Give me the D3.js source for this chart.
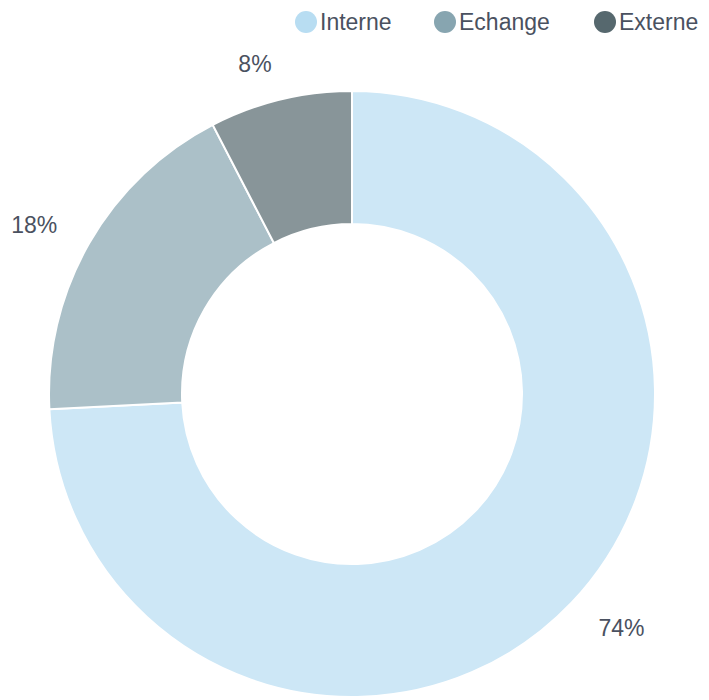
<!DOCTYPE html>
<html>
<head>
<meta charset="utf-8">
<script src="https://cdn.jsdelivr.net/npm/d3@7"></script>
<style>
  body { margin: 0; background: #fff; }
  text { font-family: "Liberation Sans", Arial, sans-serif; fill: #4a5160; }
</style>
</head>
<body>
<svg id="chart" width="709" height="700"></svg>
<script>
// data
var categories = ["Interne", "Echange", "Externe"];
var values = [74.2, 18.2, 7.6];
var labels = ["74%", "18%", "8%"];
var colors = ["#b8ddf2", "#87a5b0", "#56686e"];

var width = 709,
    height = 700,
    cx = 352,
    cy = 394,
    outer = 303,
    inner = 170,
    labelR = 340;

var svg = d3.select("#chart");

var color = d3.scaleOrdinal().domain(categories).range(colors);

var pie = d3.pie().sort(null).value(function(d) { return d.value; });
var arcs = pie(categories.map(function(c, i) { return {name: c, value: values[i], label: labels[i]}; }));

var arc = d3.arc().innerRadius(inner).outerRadius(outer);

var g = svg.append("g").attr("transform", "translate(" + cx + "," + cy + ")");

g.selectAll("path.slice")
    .data(arcs)
    .enter().append("path")
    .attr("class", "slice")
    .attr("d", arc)
    .attr("fill", function(d) { return color(d.data.name); })
    .attr("fill-opacity", 0.7)
    .attr("stroke", "#fff")
    .attr("stroke-width", 2);

// outside labels
g.selectAll("text.lbl")
    .data(arcs)
    .enter().append("text")
    .attr("class", "lbl")
    .attr("x", function(d) { var a = (d.startAngle + d.endAngle) / 2; return labelR * Math.sin(a); })
    .attr("y", function(d) { var a = (d.startAngle + d.endAngle) / 2; return -labelR * Math.cos(a); })
    .attr("dy", "0.35em")
    .attr("text-anchor", function(d) { var a = (d.startAngle + d.endAngle) / 2; return a > Math.PI ? "end" : "start"; })
    .style("font-size", "23px")
    .text(function(d) { return d.data.label; });

// legend
var legendX = [306, 445, 605];
var legend = svg.append("g").selectAll("g")
    .data(categories)
    .enter().append("g")
    .attr("transform", function(d, i) { return "translate(" + legendX[i] + ",22)"; });

legend.append("circle")
    .attr("r", 11)
    .attr("fill", function(d) { return color(d); });

legend.append("text")
    .attr("x", 14)
    .attr("dy", "0.35em")
    .style("font-size", "23px")
    .text(function(d) { return d; });
</script>
</body>
</html>
